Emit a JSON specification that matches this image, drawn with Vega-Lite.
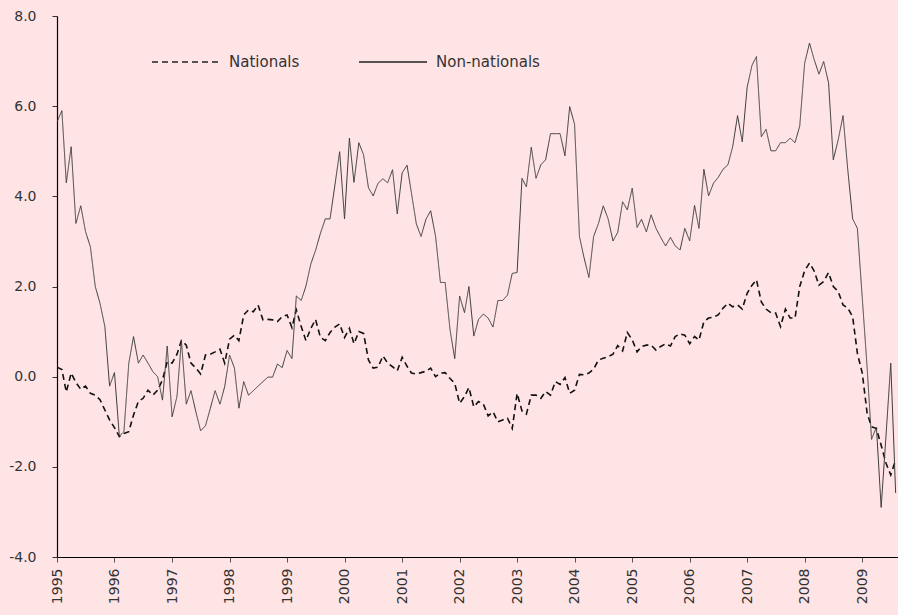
{
 "$schema": "https://vega.github.io/schema/vega-lite/v6.json",
 "width": 841,
 "height": 541,
 "autosize": {"type": "none"},
 "padding": {"left": 57, "top": 16, "right": 0, "bottom": 58},
 "background": "#ffe4e6",
 "config": {"view": {"stroke": null}, "font": "DejaVu Sans"},
 "data": {"values": [
  {"d":"1995-01-01","Nationals":0.21,"Non-nationals":5.65},
  {"d":"1995-02-01","Nationals":0.16,"Non-nationals":5.90},
  {"d":"1995-03-01","Nationals":-0.34,"Non-nationals":4.30},
  {"d":"1995-04-01","Nationals":0.08,"Non-nationals":5.10},
  {"d":"1995-05-01","Nationals":-0.13,"Non-nationals":3.40},
  {"d":"1995-06-01","Nationals":-0.28,"Non-nationals":3.79},
  {"d":"1995-07-01","Nationals":-0.21,"Non-nationals":3.22},
  {"d":"1995-08-01","Nationals":-0.37,"Non-nationals":2.88},
  {"d":"1995-09-01","Nationals":-0.41,"Non-nationals":2.00},
  {"d":"1995-10-01","Nationals":-0.51,"Non-nationals":1.63},
  {"d":"1995-11-01","Nationals":-0.74,"Non-nationals":1.11},
  {"d":"1995-12-01","Nationals":-0.96,"Non-nationals":-0.21},
  {"d":"1996-01-01","Nationals":-1.13,"Non-nationals":0.09},
  {"d":"1996-02-01","Nationals":-1.33,"Non-nationals":-1.32},
  {"d":"1996-03-01","Nationals":-1.26,"Non-nationals":-1.22},
  {"d":"1996-04-01","Nationals":-1.22,"Non-nationals":0.30},
  {"d":"1996-05-01","Nationals":-0.85,"Non-nationals":0.89},
  {"d":"1996-06-01","Nationals":-0.55,"Non-nationals":0.30},
  {"d":"1996-07-01","Nationals":-0.48,"Non-nationals":0.48},
  {"d":"1996-08-01","Nationals":-0.30,"Non-nationals":0.30},
  {"d":"1996-09-01","Nationals":-0.41,"Non-nationals":0.11},
  {"d":"1996-10-01","Nationals":-0.30,"Non-nationals":0.00},
  {"d":"1996-11-01","Nationals":-0.07,"Non-nationals":-0.52},
  {"d":"1996-12-01","Nationals":0.33,"Non-nationals":0.68},
  {"d":"1997-01-01","Nationals":0.30,"Non-nationals":-0.89},
  {"d":"1997-02-01","Nationals":0.50,"Non-nationals":-0.44},
  {"d":"1997-03-01","Nationals":0.80,"Non-nationals":0.80},
  {"d":"1997-04-01","Nationals":0.70,"Non-nationals":-0.61},
  {"d":"1997-05-01","Nationals":0.30,"Non-nationals":-0.31},
  {"d":"1997-06-01","Nationals":0.19,"Non-nationals":-0.78},
  {"d":"1997-07-01","Nationals":0.06,"Non-nationals":-1.20},
  {"d":"1997-08-01","Nationals":0.48,"Non-nationals":-1.09},
  {"d":"1997-09-01","Nationals":0.50,"Non-nationals":-0.70},
  {"d":"1997-10-01","Nationals":0.55,"Non-nationals":-0.31},
  {"d":"1997-11-01","Nationals":0.61,"Non-nationals":-0.61},
  {"d":"1997-12-01","Nationals":0.30,"Non-nationals":-0.22},
  {"d":"1998-01-01","Nationals":0.83,"Non-nationals":0.48},
  {"d":"1998-02-01","Nationals":0.92,"Non-nationals":0.19},
  {"d":"1998-03-01","Nationals":0.80,"Non-nationals":-0.70},
  {"d":"1998-04-01","Nationals":1.37,"Non-nationals":-0.11},
  {"d":"1998-05-01","Nationals":1.48,"Non-nationals":-0.41},
  {"d":"1998-06-01","Nationals":1.44,"Non-nationals":-0.31},
  {"d":"1998-07-01","Nationals":1.59,"Non-nationals":-0.21},
  {"d":"1998-08-01","Nationals":1.26,"Non-nationals":-0.11},
  {"d":"1998-09-01","Nationals":1.27,"Non-nationals":-0.01},
  {"d":"1998-10-01","Nationals":1.26,"Non-nationals":-0.01},
  {"d":"1998-11-01","Nationals":1.22,"Non-nationals":0.28},
  {"d":"1998-12-01","Nationals":1.33,"Non-nationals":0.20},
  {"d":"1999-01-01","Nationals":1.37,"Non-nationals":0.58},
  {"d":"1999-02-01","Nationals":1.09,"Non-nationals":0.40},
  {"d":"1999-03-01","Nationals":1.48,"Non-nationals":1.79},
  {"d":"1999-04-01","Nationals":1.11,"Non-nationals":1.69},
  {"d":"1999-05-01","Nationals":0.80,"Non-nationals":2.01},
  {"d":"1999-06-01","Nationals":1.07,"Non-nationals":2.50},
  {"d":"1999-07-01","Nationals":1.27,"Non-nationals":2.80},
  {"d":"1999-08-01","Nationals":0.87,"Non-nationals":3.18},
  {"d":"1999-09-01","Nationals":0.80,"Non-nationals":3.50},
  {"d":"1999-10-01","Nationals":0.98,"Non-nationals":3.50},
  {"d":"1999-11-01","Nationals":1.10,"Non-nationals":4.25},
  {"d":"1999-12-01","Nationals":1.17,"Non-nationals":4.99},
  {"d":"2000-01-01","Nationals":0.87,"Non-nationals":3.50},
  {"d":"2000-02-01","Nationals":1.07,"Non-nationals":5.29},
  {"d":"2000-03-01","Nationals":0.73,"Non-nationals":4.31},
  {"d":"2000-04-01","Nationals":1.00,"Non-nationals":5.19},
  {"d":"2000-05-01","Nationals":0.96,"Non-nationals":4.92},
  {"d":"2000-06-01","Nationals":0.37,"Non-nationals":4.19},
  {"d":"2000-07-01","Nationals":0.19,"Non-nationals":4.01},
  {"d":"2000-08-01","Nationals":0.21,"Non-nationals":4.29},
  {"d":"2000-09-01","Nationals":0.46,"Non-nationals":4.39},
  {"d":"2000-10-01","Nationals":0.30,"Non-nationals":4.30},
  {"d":"2000-11-01","Nationals":0.22,"Non-nationals":4.59},
  {"d":"2000-12-01","Nationals":0.13,"Non-nationals":3.61},
  {"d":"2001-01-01","Nationals":0.43,"Non-nationals":4.52},
  {"d":"2001-02-01","Nationals":0.23,"Non-nationals":4.69},
  {"d":"2001-03-01","Nationals":0.08,"Non-nationals":4.07},
  {"d":"2001-04-01","Nationals":0.06,"Non-nationals":3.39},
  {"d":"2001-05-01","Nationals":0.09,"Non-nationals":3.11},
  {"d":"2001-06-01","Nationals":0.12,"Non-nationals":3.49},
  {"d":"2001-07-01","Nationals":0.19,"Non-nationals":3.68},
  {"d":"2001-08-01","Nationals":0.00,"Non-nationals":3.12},
  {"d":"2001-09-01","Nationals":0.08,"Non-nationals":2.09},
  {"d":"2001-10-01","Nationals":0.09,"Non-nationals":2.09},
  {"d":"2001-11-01","Nationals":-0.04,"Non-nationals":1.04},
  {"d":"2001-12-01","Nationals":-0.15,"Non-nationals":0.40},
  {"d":"2002-01-01","Nationals":-0.59,"Non-nationals":1.79},
  {"d":"2002-02-01","Nationals":-0.44,"Non-nationals":1.42},
  {"d":"2002-03-01","Nationals":-0.24,"Non-nationals":2.00},
  {"d":"2002-04-01","Nationals":-0.67,"Non-nationals":0.90},
  {"d":"2002-05-01","Nationals":-0.55,"Non-nationals":1.27},
  {"d":"2002-06-01","Nationals":-0.61,"Non-nationals":1.39},
  {"d":"2002-07-01","Nationals":-0.87,"Non-nationals":1.30},
  {"d":"2002-08-01","Nationals":-0.78,"Non-nationals":1.10},
  {"d":"2002-09-01","Nationals":-1.00,"Non-nationals":1.69},
  {"d":"2002-10-01","Nationals":-0.96,"Non-nationals":1.69},
  {"d":"2002-11-01","Nationals":-0.92,"Non-nationals":1.81},
  {"d":"2002-12-01","Nationals":-1.15,"Non-nationals":2.29},
  {"d":"2003-01-01","Nationals":-0.37,"Non-nationals":2.31},
  {"d":"2003-02-01","Nationals":-0.76,"Non-nationals":4.40},
  {"d":"2003-03-01","Nationals":-0.83,"Non-nationals":4.21},
  {"d":"2003-04-01","Nationals":-0.41,"Non-nationals":5.09},
  {"d":"2003-05-01","Nationals":-0.41,"Non-nationals":4.40},
  {"d":"2003-06-01","Nationals":-0.48,"Non-nationals":4.70},
  {"d":"2003-07-01","Nationals":-0.33,"Non-nationals":4.81},
  {"d":"2003-08-01","Nationals":-0.41,"Non-nationals":5.39},
  {"d":"2003-09-01","Nationals":-0.11,"Non-nationals":5.39},
  {"d":"2003-10-01","Nationals":-0.17,"Non-nationals":5.39},
  {"d":"2003-11-01","Nationals":-0.02,"Non-nationals":4.90},
  {"d":"2003-12-01","Nationals":-0.37,"Non-nationals":5.99},
  {"d":"2004-01-01","Nationals":-0.30,"Non-nationals":5.60},
  {"d":"2004-02-01","Nationals":0.05,"Non-nationals":3.11},
  {"d":"2004-03-01","Nationals":0.04,"Non-nationals":2.64},
  {"d":"2004-04-01","Nationals":0.08,"Non-nationals":2.20},
  {"d":"2004-05-01","Nationals":0.17,"Non-nationals":3.11},
  {"d":"2004-06-01","Nationals":0.37,"Non-nationals":3.40},
  {"d":"2004-07-01","Nationals":0.41,"Non-nationals":3.79},
  {"d":"2004-08-01","Nationals":0.44,"Non-nationals":3.50},
  {"d":"2004-09-01","Nationals":0.50,"Non-nationals":3.01},
  {"d":"2004-10-01","Nationals":0.69,"Non-nationals":3.20},
  {"d":"2004-11-01","Nationals":0.57,"Non-nationals":3.88},
  {"d":"2004-12-01","Nationals":0.98,"Non-nationals":3.70},
  {"d":"2005-01-01","Nationals":0.82,"Non-nationals":4.18},
  {"d":"2005-02-01","Nationals":0.55,"Non-nationals":3.31},
  {"d":"2005-03-01","Nationals":0.67,"Non-nationals":3.49},
  {"d":"2005-04-01","Nationals":0.70,"Non-nationals":3.21},
  {"d":"2005-05-01","Nationals":0.70,"Non-nationals":3.59},
  {"d":"2005-06-01","Nationals":0.59,"Non-nationals":3.29},
  {"d":"2005-07-01","Nationals":0.67,"Non-nationals":3.09},
  {"d":"2005-08-01","Nationals":0.73,"Non-nationals":2.90},
  {"d":"2005-09-01","Nationals":0.68,"Non-nationals":3.09},
  {"d":"2005-10-01","Nationals":0.89,"Non-nationals":2.90},
  {"d":"2005-11-01","Nationals":0.95,"Non-nationals":2.81},
  {"d":"2005-12-01","Nationals":0.92,"Non-nationals":3.29},
  {"d":"2006-01-01","Nationals":0.73,"Non-nationals":3.01},
  {"d":"2006-02-01","Nationals":0.89,"Non-nationals":3.80},
  {"d":"2006-03-01","Nationals":0.81,"Non-nationals":3.29},
  {"d":"2006-04-01","Nationals":1.22,"Non-nationals":4.60},
  {"d":"2006-05-01","Nationals":1.30,"Non-nationals":4.01},
  {"d":"2006-06-01","Nationals":1.32,"Non-nationals":4.29},
  {"d":"2006-07-01","Nationals":1.37,"Non-nationals":4.42},
  {"d":"2006-08-01","Nationals":1.52,"Non-nationals":4.60},
  {"d":"2006-09-01","Nationals":1.63,"Non-nationals":4.70},
  {"d":"2006-10-01","Nationals":1.55,"Non-nationals":5.10},
  {"d":"2006-11-01","Nationals":1.59,"Non-nationals":5.79},
  {"d":"2006-12-01","Nationals":1.50,"Non-nationals":5.21},
  {"d":"2007-01-01","Nationals":1.85,"Non-nationals":6.42},
  {"d":"2007-02-01","Nationals":2.03,"Non-nationals":6.91},
  {"d":"2007-03-01","Nationals":2.15,"Non-nationals":7.10},
  {"d":"2007-04-01","Nationals":1.66,"Non-nationals":5.32},
  {"d":"2007-05-01","Nationals":1.50,"Non-nationals":5.49},
  {"d":"2007-06-01","Nationals":1.42,"Non-nationals":5.01},
  {"d":"2007-07-01","Nationals":1.41,"Non-nationals":5.01},
  {"d":"2007-08-01","Nationals":1.11,"Non-nationals":5.19},
  {"d":"2007-09-01","Nationals":1.50,"Non-nationals":5.19},
  {"d":"2007-10-01","Nationals":1.30,"Non-nationals":5.29},
  {"d":"2007-11-01","Nationals":1.30,"Non-nationals":5.19},
  {"d":"2007-12-01","Nationals":2.00,"Non-nationals":5.56},
  {"d":"2008-01-01","Nationals":2.35,"Non-nationals":6.95},
  {"d":"2008-02-01","Nationals":2.52,"Non-nationals":7.40},
  {"d":"2008-03-01","Nationals":2.35,"Non-nationals":7.04},
  {"d":"2008-04-01","Nationals":2.03,"Non-nationals":6.71},
  {"d":"2008-05-01","Nationals":2.11,"Non-nationals":6.99},
  {"d":"2008-06-01","Nationals":2.31,"Non-nationals":6.52},
  {"d":"2008-07-01","Nationals":2.00,"Non-nationals":4.81},
  {"d":"2008-08-01","Nationals":1.89,"Non-nationals":5.25},
  {"d":"2008-09-01","Nationals":1.59,"Non-nationals":5.79},
  {"d":"2008-10-01","Nationals":1.52,"Non-nationals":4.59},
  {"d":"2008-11-01","Nationals":1.33,"Non-nationals":3.50},
  {"d":"2008-12-01","Nationals":0.52,"Non-nationals":3.29},
  {"d":"2009-01-01","Nationals":0.08,"Non-nationals":1.75},
  {"d":"2009-02-01","Nationals":-0.81,"Non-nationals":0.20},
  {"d":"2009-03-01","Nationals":-1.11,"Non-nationals":-1.39},
  {"d":"2009-04-01","Nationals":-1.15,"Non-nationals":-1.12},
  {"d":"2009-05-01","Nationals":-1.52,"Non-nationals":-2.90},
  {"d":"2009-06-01","Nationals":-1.92,"Non-nationals":-1.30},
  {"d":"2009-07-01","Nationals":-2.18,"Non-nationals":0.30},
  {"d":"2009-08-01","Nationals":-1.85,"Non-nationals":-2.58}
 ]},
 "transform": [{"fold": ["Nationals", "Non-nationals"], "as": ["series", "value"]}],
 "mark": {"type": "line", "clip": true, "strokeJoin": "miter"},
 "encoding": {
  "x": {
   "field": "d", "type": "temporal",
   "scale": {"type": "utc", "domain": [{"year": 1995, "month": 1, "date": 1, "utc": true}, {"year": 2009, "month": 8, "date": 16, "utc": true}], "nice": false},
   "axis": {"title": null, "format": "%Y", "tickCount": {"interval": "year", "step": 1}, "labelAngle": -90, "labelFontSize": 14, "labelColor": "#333333", "labelPadding": 6, "tickSize": 5, "tickColor": "#555555", "domainColor": "#000000", "domainWidth": 1.2, "grid": false, "labelFlush": false, "labelOverlap": false}
  },
  "y": {
   "field": "value", "type": "quantitative",
   "scale": {"domain": [-4, 8], "nice": false, "zero": false},
   "axis": {"title": null, "values": [-4, -2, 0, 2, 4, 6, 8], "format": ".1f", "labelExpr": "replace(datum.label, '\u2212', '-')", "labelFontSize": 14, "labelColor": "#333333", "labelPadding": 16, "tickSize": 5, "tickColor": "#333333", "domainColor": "#000000", "domainWidth": 1.2, "grid": false, "labelFlush": false}
  },
  "strokeDash": {
   "field": "series", "type": "nominal",
   "scale": {"domain": ["Nationals", "Non-nationals"], "range": [[6, 4], [1, 0]]},
   "legend": {"orient": "none", "legendX": 94, "legendY": 11, "direction": "horizontal", "title": null, "symbolType": "stroke", "symbolSize": 4624, "symbolStrokeWidth": 1.3, "symbolStrokeColor": "#222222", "labelFontSize": 15, "labelOffset": 8, "columnPadding": 56, "labelColor": "#333333", "padding": 0}
  },
  "color": {"condition": {"test": "datum.series === 'Nationals'", "value": "#111111"}, "value": "#3a3a3a"},
  "strokeWidth": {"condition": {"test": "datum.series === 'Nationals'", "value": 1.6}, "value": 1}
 }
}
